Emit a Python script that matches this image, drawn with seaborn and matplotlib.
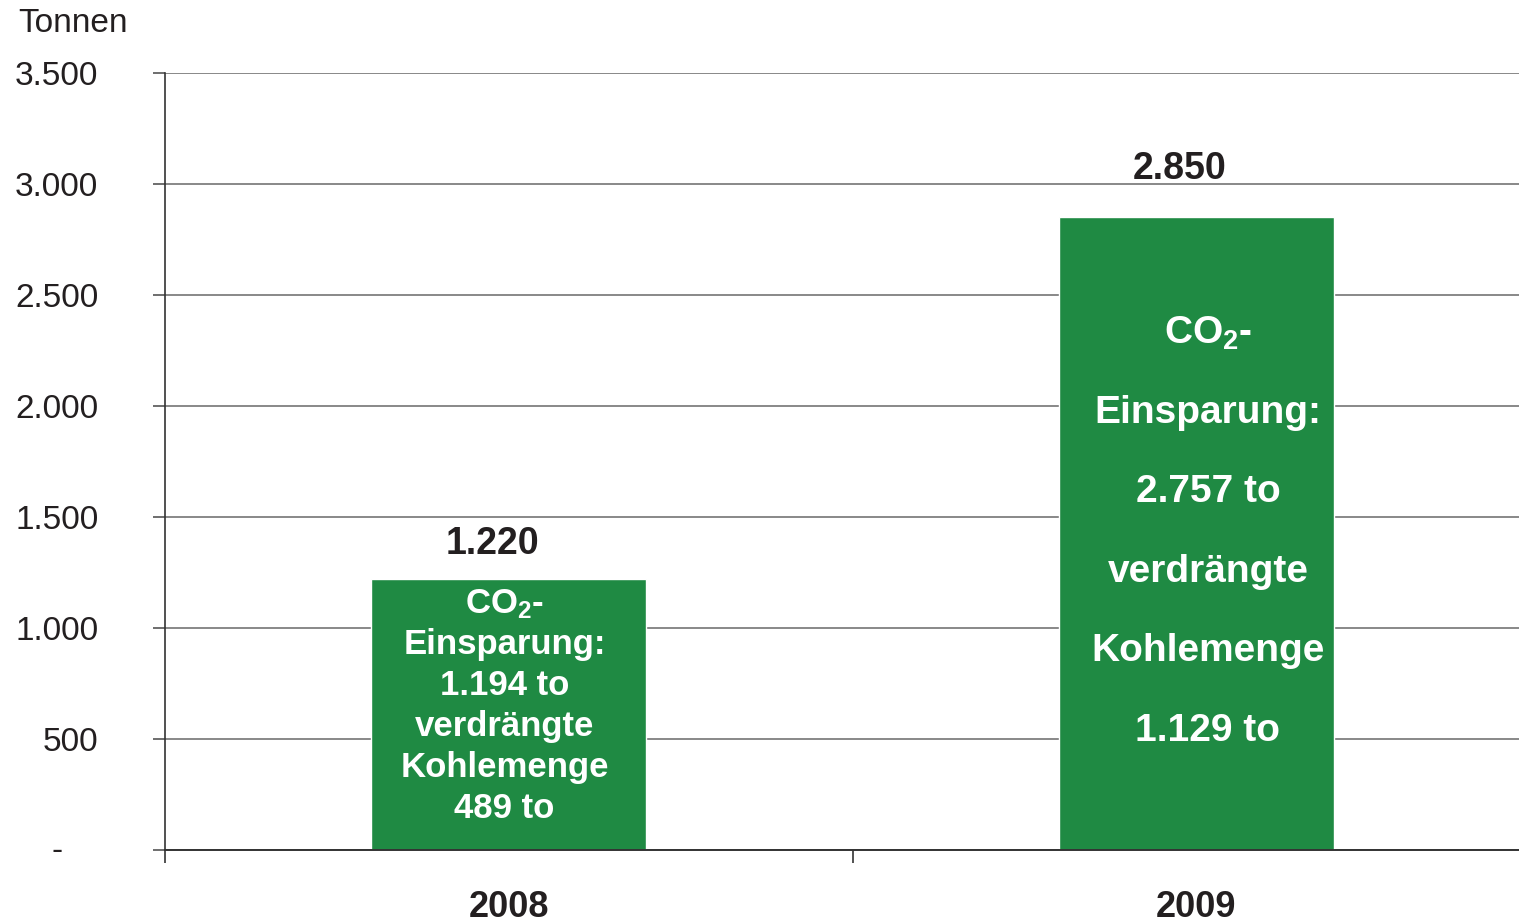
import matplotlib
matplotlib.use('Agg')
import matplotlib.pyplot as plt
import seaborn as sns
import pandas as pd

# data
years = ['2008', '2009']
tonnes = [1220, 2850]
value_labels = ['1.220', '2.850']
co2_savings = ['1.194', '2.757']
coal_displaced = ['489', '1.129']
yticks = [0, 500, 1000, 1500, 2000, 2500, 3000, 3500]
ytick_labels = ['', '500', '1.000', '1.500', '2.000', '2.500', '3.000', '3.500']
zero_label = '-'

bar_color = '#1F8A43'
text_dark = '#231F20'

sns.set_theme(style='white')
plt.rcParams['font.family'] = ['Liberation Sans', 'DejaVu Sans']
plt.rcParams['mathtext.default'] = 'regular'

df = pd.DataFrame({'year': years, 'tonnes': tonnes})

fig = plt.figure(figsize=(15.19, 9.24), dpi=100)
ax = fig.add_axes([165 / 1519, 74 / 924, 1375 / 1519, 777 / 924])

sns.barplot(data=df, x='year', y='tonnes', color=bar_color, saturation=1,
            width=0.4, ax=ax)

ax.set_ylim(0, 3500)
ax.set_xlim(-0.5, 1.5)
ax.set_yticks(yticks)
ax.set_yticklabels(ytick_labels, fontsize=24, color=text_dark)
ax.yaxis.grid(True, color='#7f7f7f', linewidth=1.3)
ax.set_axisbelow(True)
ax.tick_params(axis='y', direction='out', length=9, width=1.2, color='#555555',
               pad=39, left=True)
# zero shown as "-" further left, like the accounting format in the original
ax.annotate(zero_label, xy=(0, yticks[0]), xycoords=('axes fraction', 'data'),
            xytext=(-78, -1), textcoords='offset points', ha='center', va='center',
            fontsize=24, color=text_dark, annotation_clip=False)

# category boundaries as major ticks, year labels as minor ticks
ax.set_xticks([-0.5, 0.5, 1.5])
ax.set_xticklabels(['', '', ''])
ax.set_xticks([0, 1], minor=True)
ax.set_xticklabels(years, minor=True, fontsize=26, fontweight='bold', color=text_dark)
ax.tick_params(axis='x', which='major', direction='out', length=9, width=1.2,
               color='#333333', bottom=True)
ax.tick_params(axis='x', which='minor', length=0, pad=29)
ax.set_xlabel('')
ax.set_ylabel('')

for side in ['top', 'right']:
    ax.spines[side].set_visible(False)
ax.spines['left'].set_color('#333333')
ax.spines['left'].set_linewidth(1.2)
ax.spines['bottom'].set_color('#333333')
ax.spines['bottom'].set_linewidth(1.4)

# value labels above bars
label_offsets = [12, 22]
for i, (v, lab) in enumerate(zip(tonnes, value_labels)):
    ax.annotate(lab, (i, v), xytext=(-12, label_offsets[i]), textcoords='offset points',
                ha='center', va='bottom', fontsize=27, fontweight='bold',
                color=text_dark)

# text inside bars
sizes = [25, 28]
spacing = [1.3, 2.55]
x_shift = [-0.006, 0.017]
for i, v in enumerate(tonnes):
    txt = ('CO$_2$-\nEinsparung:\n' + co2_savings[i] + ' to\nverdrängte\n'
           'Kohlemenge\n' + coal_displaced[i] + ' to')
    ax.text(i + x_shift[i], v / 2 + 40 - 30 * i, txt, ha='center', va='center',
            fontsize=sizes[i], fontweight='bold', color='white',
            linespacing=spacing[i], multialignment='center')

fig.text(18 / 1519, 1 - 24 / 924, 'Tonnen', ha='left', va='center',
         fontsize=24, color=text_dark)

fig.savefig('out.png', dpi=100)
